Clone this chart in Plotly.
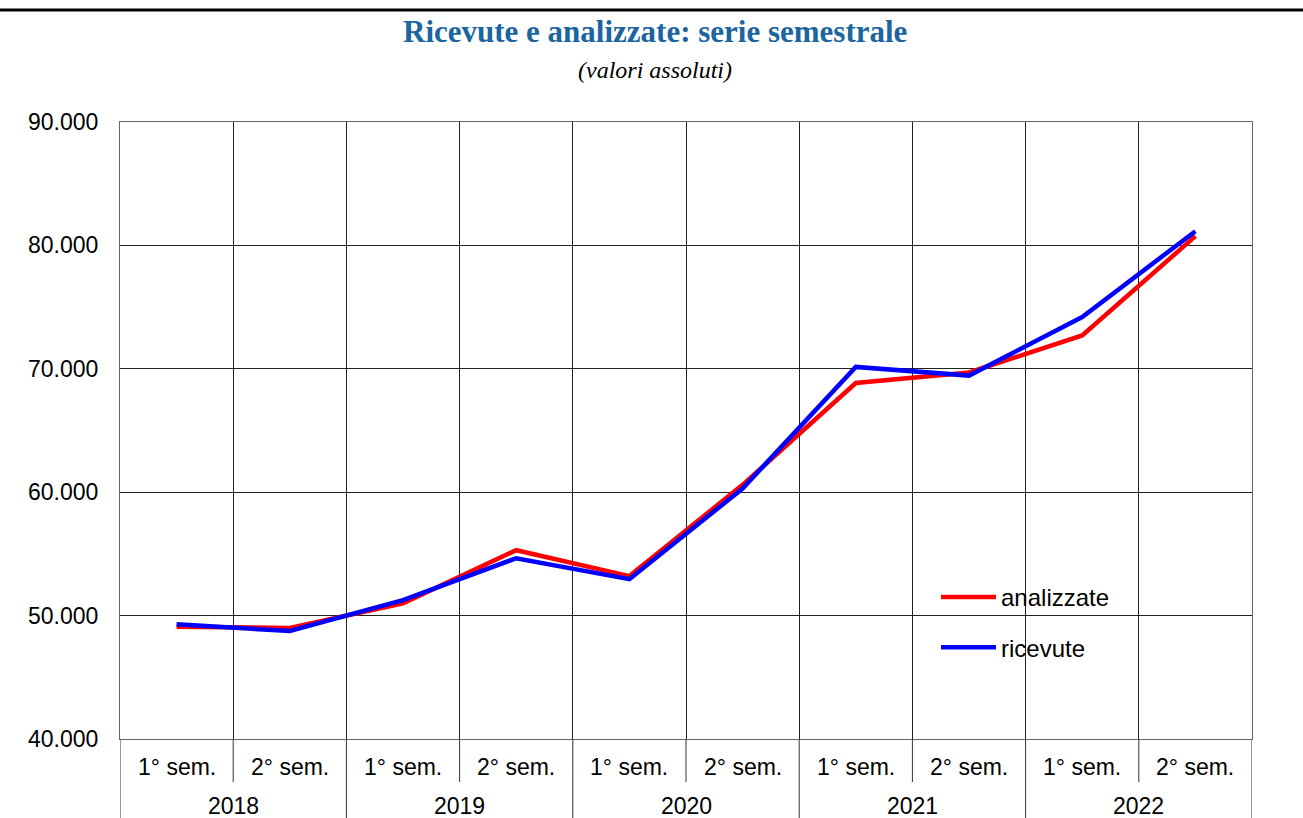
import plotly.graph_objects as go

semesters = ["1° sem.", "2° sem."] * 5
years = ["2018", "2019", "2020", "2021", "2022"]
analizzate = [49100, 49000, 51000, 55300, 53200, 60600, 68850, 69700, 72700, 80750]
ricevute = [49300, 48750, 51250, 54650, 52950, 60300, 70150, 69450, 74200, 81150]

xpos = [i + 0.5 for i in range(len(semesters))]

W, H = 1303, 818
L, R, T, B = 120, 51, 122, 79
PW, PH = W - L - R, H - T - B


def py(pix):  # pixel y -> paper y
    return (H - B - pix) / PH


def px(pix):
    return (pix - L) / PW


SANS = "Liberation Sans, Arial"
SERIF = "Liberation Serif, Times New Roman, serif"

fig = go.Figure()
fig.add_trace(go.Scatter(x=xpos, y=analizzate, mode="lines", name="analizzate",
                         line=dict(color="#FF0000", width=4.5), legendgroup="a"))
fig.add_trace(go.Scatter(x=xpos, y=ricevute, mode="lines", name="ricevute",
                         line=dict(color="#0000FF", width=4.5), legendgroup="b"))

annotations = []
for i, s in enumerate(semesters):
    annotations.append(dict(x=xpos[i], y=py(767), xref="x", yref="paper", text=s,
                            showarrow=False, font=dict(family=SANS, size=23, color="black"),
                            xanchor="center", yanchor="middle"))
for j, yr in enumerate(years):
    annotations.append(dict(x=2 * j + 1, y=py(806), xref="x", yref="paper", text=yr,
                            showarrow=False, font=dict(family=SANS, size=23, color="black"),
                            xanchor="center", yanchor="middle"))
annotations.append(dict(x=px(655), y=py(32), xref="paper", yref="paper",
                        text="<b>Ricevute e analizzate: serie semestrale</b>", showarrow=False,
                        font=dict(family=SERIF, size=31, color="#1b65a1"),
                        xanchor="center", yanchor="middle"))
annotations.append(dict(x=px(655), y=py(70), xref="paper", yref="paper",
                        text="<i>(valori assoluti)</i>", showarrow=False,
                        font=dict(family=SERIF, size=24, color="black"),
                        xanchor="center", yanchor="middle"))

shapes = []
for k in range(0, 11):
    y1 = py(818) if k % 2 == 0 else py(782)
    shapes.append(dict(type="line", xref="x", yref="paper", x0=k, x1=k, y0=0, y1=y1,
                       line=dict(color="#333333", width=1)))
shapes.append(dict(type="line", xref="paper", yref="paper", x0=px(0), x1=px(W), y0=py(10), y1=py(10),
                   line=dict(color="black", width=3)))
# white area behind the legend
shapes.append(dict(type="rect", xref="paper", yref="paper", x0=px(895), x1=px(1148),
                   y0=py(673), y1=py(573), fillcolor="white", line=dict(width=0), layer="between"))

fig.update_layout(
    width=W, height=H,
    margin=dict(l=L, r=R, t=T, b=B),
    paper_bgcolor="white", plot_bgcolor="white",
    separators=",.",
    showlegend=True,
    legend=dict(x=px(936), y=py(575), xanchor="left", yanchor="top",
                bgcolor="rgba(0,0,0,0)", borderwidth=0,
                font=dict(family=SANS, size=24, color="black"),
                traceorder="grouped", tracegroupgap=16, itemwidth=55),
    annotations=annotations,
    shapes=shapes,
    xaxis=dict(range=[0, 10], tickvals=list(range(11)), showticklabels=False, ticks="",
               showgrid=True, gridcolor="#222222", gridwidth=1, zeroline=False,
               showline=True, linecolor="#666666", linewidth=1, mirror=True, fixedrange=True),
    yaxis=dict(range=[40000, 90000], dtick=10000, tickformat=",d", ticks="",
               ticklabelstandoff=16,
               tickfont=dict(family=SANS, size=23, color="black"),
               showgrid=True, gridcolor="#222222", gridwidth=1, zeroline=False,
               showline=True, linecolor="#666666", linewidth=1, mirror=True, fixedrange=True),
)

fig.write_html("out.html", config={"displayModeBar": False},
               post_script="document.body.style.margin='0px';")
